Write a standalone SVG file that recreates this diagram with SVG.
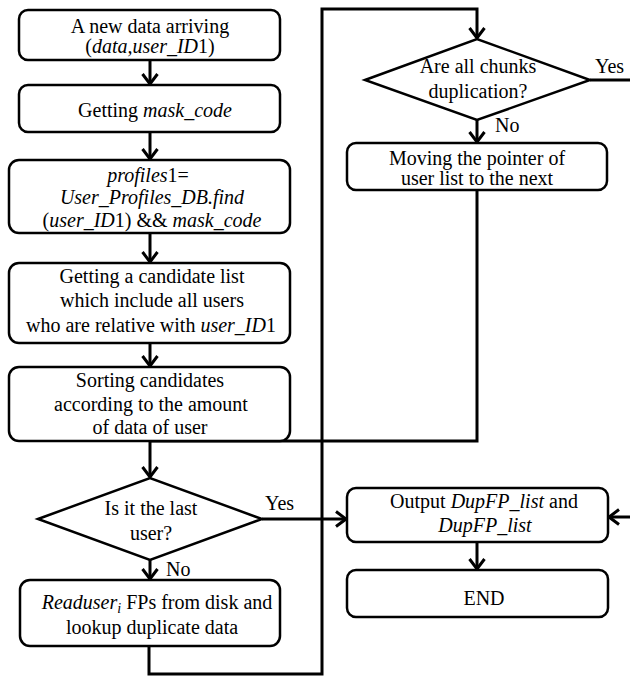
<svg xmlns="http://www.w3.org/2000/svg" width="630" height="678" viewBox="0 0 630 678">
  <defs>
    <marker id="arrow" markerUnits="userSpaceOnUse" markerWidth="18" markerHeight="18" viewBox="-16 -9 18 18" refX="0" refY="0" orient="auto">
      <path d="M-10,-7.5 L0,0 L-10,7.5" fill="none" stroke="#000" stroke-width="3"/>
    </marker>
  </defs>
  <style>
    .box { fill: #fff; stroke: #000; stroke-width: 2.5; }
    .dec { fill: #fff; stroke: #000; stroke-width: 2.5; stroke-linejoin: miter; }
    .wire { fill: none; stroke: #000; stroke-width: 3; }
    .arr { marker-end: url(#arrow); }
    text { font-family: "Liberation Serif", "DejaVu Serif", serif; font-size: 20px; fill: #000; }
    .c { text-anchor: middle; }
    .i { font-style: italic; }
  </style>
  <rect width="630" height="678" fill="#fff"/>

  <!-- connectors -->
  <g id="connectors">
    <line class="wire arr" x1="150" y1="60" x2="150" y2="84"/>
    <line class="wire arr" x1="150" y1="132" x2="150" y2="159"/>
    <line class="wire arr" x1="150" y1="233" x2="150" y2="262"/>
    <line class="wire arr" x1="150" y1="343" x2="150" y2="366"/>
    <line class="wire arr" x1="150" y1="441" x2="150" y2="477"/>
    <polyline class="wire" points="477,190 477,441 150,441"/>
    <line class="wire arr" x1="150" y1="560" x2="150" y2="579"/>
    <polyline class="wire arr" points="149,646 149,674 322,674 322,9 477,9 477,38"/>
    <line class="wire arr" x1="262" y1="519" x2="346" y2="519"/>
    <line class="wire arr" x1="477" y1="120" x2="477" y2="142"/>
    <line class="wire" x1="590" y1="80" x2="630" y2="80"/>
    <line class="wire arr" x1="630" y1="517" x2="609" y2="517"/>
    <line class="wire arr" x1="477" y1="542" x2="477" y2="569"/>
  </g>

  <g id="n-arrive">
    <rect class="box" x="19" y="10" width="261" height="50" rx="9"/>
    <text class="c" x="150" y="33">A new data arriving</text>
    <text class="c" x="150" y="53">(<tspan class="i">data,user_ID</tspan>1)</text>
  </g>

  <g id="n-mask">
    <rect class="box" x="19" y="85" width="261" height="47" rx="9"/>
    <text class="c" x="155" y="117">Getting <tspan class="i">mask_code</tspan></text>
  </g>

  <g id="n-profiles">
    <rect class="box" x="9" y="160" width="281" height="73" rx="10"/>
    <text class="c" x="148" y="182"><tspan class="i">profiles</tspan>1=</text>
    <text class="c i" x="152" y="204">User_Profiles_DB.find</text>
    <text class="c" x="152" y="227">(<tspan class="i">user_ID</tspan>1) &amp;&amp; <tspan class="i">mask_code</tspan></text>
  </g>

  <g id="n-candidates">
    <rect class="box" x="9" y="263" width="281" height="80" rx="10"/>
    <text class="c" x="152" y="283">Getting a candidate list</text>
    <text class="c" x="152" y="307">which include all users</text>
    <text class="c" x="151" y="332">who are relative with <tspan class="i">user_ID</tspan>1</text>
  </g>

  <g id="n-sort">
    <rect class="box" x="9" y="367" width="281" height="74" rx="10"/>
    <text class="c" x="150" y="387">Sorting candidates</text>
    <text class="c" x="151" y="411">according to the amount</text>
    <text class="c" x="150" y="434">of data of user</text>
  </g>

  <g id="n-last-user">
    <polygon class="dec" points="38,519 150,478 262,519 150,560"/>
    <text class="c" x="151" y="515">Is it the last</text>
    <text class="c" x="151" y="540">user?</text>
    <text x="265" y="510">Yes</text>
    <text x="166" y="576">No</text>
  </g>

  <g id="n-read">
    <rect class="box" x="20" y="580" width="260" height="66" rx="10"/>
    <text class="c" x="157" y="609"><tspan class="i">Readuser<tspan font-size="14" dy="4">i</tspan></tspan><tspan dy="-4"> FPs from disk and</tspan></text>
    <text class="c" x="152" y="634">lookup duplicate data</text>
  </g>

  <g id="n-chunks">
    <polygon class="dec" points="365,80 477,39 590,80 477,120"/>
    <text class="c" x="478" y="73">Are all chunks</text>
    <text class="c" x="478" y="98">duplication?</text>
    <text x="595" y="73">Yes</text>
    <text x="495" y="132">No</text>
  </g>

  <g id="n-move">
    <rect class="box" x="347" y="143" width="260" height="47" rx="9"/>
    <text class="c" x="477" y="165">Moving the pointer of</text>
    <text class="c" x="477" y="185">user list  to the next</text>
  </g>

  <g id="n-output">
    <rect class="box" x="347" y="488" width="261" height="54" rx="9"/>
    <text class="c" x="484" y="508">Output <tspan class="i">DupFP_list</tspan> and</text>
    <text class="c i" x="485" y="532">DupFP_list</text>
  </g>

  <g id="n-end">
    <rect class="box" x="347" y="570" width="261" height="47" rx="9"/>
    <text class="c" x="484" y="605">END</text>
  </g>
</svg>
